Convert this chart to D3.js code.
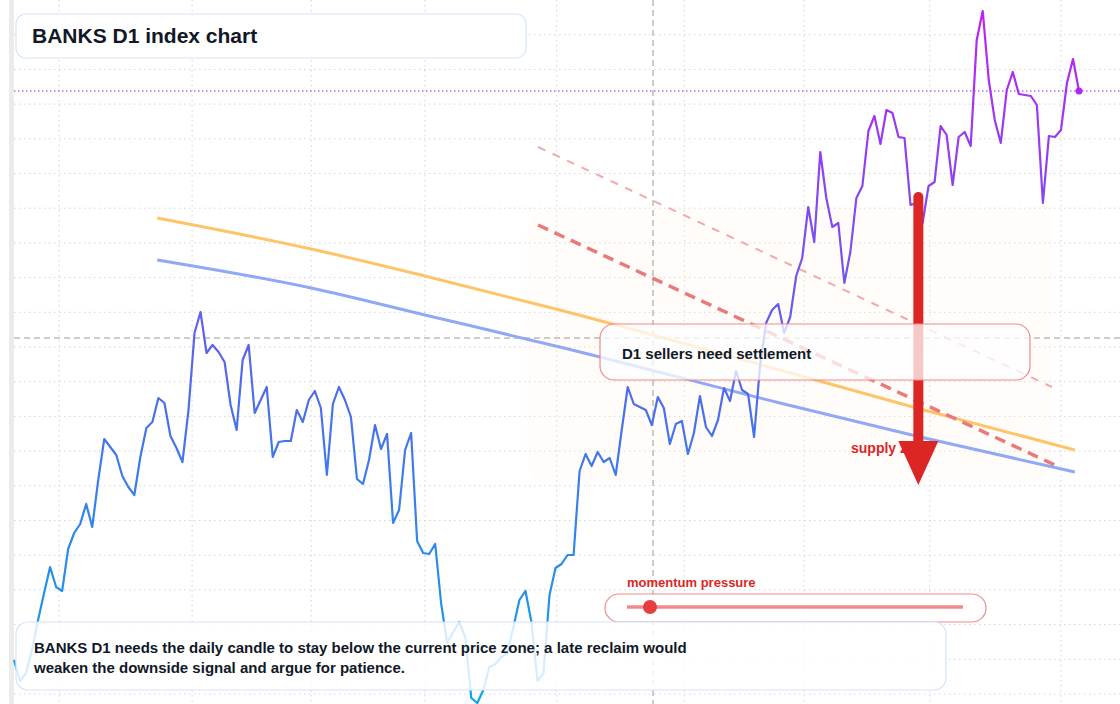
<!DOCTYPE html>
<html>
<head>
<meta charset="utf-8">
<script src="https://cdn.jsdelivr.net/npm/d3@7"></script>
<style>
  body { margin:0; background:#fff; font-family:"Liberation Sans",Arial,sans-serif; }
</style>
</head>
<body>
<script>
var w = 1120, h = 704;

// daily closes
var closes = [54.4,52.3,53.1,55.4,58.4,61.1,63.7,61.7,61.3,65.5,
  67.1,68.0,70.0,67.7,72.4,76.5,75.7,74.9,72.8,71.7,
  70.9,74.7,77.6,78.2,80.6,80.1,76.8,75.6,74.2,79.4,
  87.1,89.2,85.1,85.9,85.2,84.2,79.9,77.4,84.4,85.9,
  79.1,80.4,81.7,74.7,76.2,76.3,76.3,79.4,78.2,80.4,
  81.3,79.6,72.9,80.0,81.7,80.4,78.7,72.5,72.0,74.4,
  77.9,75.5,77.0,68.1,69.4,75.4,77.1,66.3,65.1,65.0,
  66.0,60.0,
  56.1,57.2,58.2,56.7,50.6,50.1,51.4,53.7,54.0,54.7,
  55.1,57.7,60.4,61.3,58.2,52.3,53.1,60.9,63.6,64.0,
  64.9,64.9,73.3,75.0,73.8,75.2,74.2,74.6,72.9,77.4,
  81.7,80.0,79.7,79.4,77.9,80.7,79.6,76.0,78.0,78.3,
  75.0,77.1,80.8,77.7,76.8,78.4,81.6,80.3,83.3,81.4,
  81.0,76.7,83.9,
  88.1,89.4,90.0,87.1,88.7,92.8,94.6,99.7,96.2,105.2,
  100.6,97.7,98.1,92.1,95.2,100.6,101.8,107.3,108.8,106.0,
  109.4,109.1,106.7,106.6,99.9,100.1,98.1,101.8,102.2,107.8,
  106.9,101.9,106.7,107.2,105.8,116.4,119.3,112.4,108.4,106.1,
  111.4,113.2,111.0,110.9,110.8,109.9,100.1,106.8,106.7,107.4,
  112.1,114.5,111.3];

// moving averages [index, value]
var maSlow = [[23.8,98.6],[49.4,95.5],[68.3,92.8],[90.7,89.4],[127.3,83.4],[150.6,79.5],[176.3,75.4]];
var maFast = [[23.8,94.4],[49.4,91.6],[68.3,88.9],[90.7,85.7],[127.3,80.1],[150.6,76.7],[176.3,73.2]];

// trend lines [index, value]
var trendMain = [[87.1,97.9],[173.0,73.9]];
var trendUpper = [[87.1,105.7],[172.5,81.7]];

var xGrid = [7.5,29.6,49.4,68.3,90.2,111.4,131.3,152.2,174.0];
var crossX = 106.2, crossY = 86.6;
var zone = {x0:85.3, x1:172.5, y0:99.6, y1:72.2};
var arrowFrom = 150.3, arrowTop = 100.7, arrowTip = 71.9;

var x = d3.scaleLinear().domain([0, closes.length - 1]).range([14, 1079]);
var y = d3.scaleLinear().domain([50, 120.4]).range([704, 0]);

var svg = d3.select("body").append("svg").attr("width", w).attr("height", h);
var defs = svg.append("defs");
var grad = defs.append("linearGradient").attr("id", "lineGrad")
  .attr("gradientUnits", "userSpaceOnUse").attr("x1", 0).attr("x2", 0).attr("y1", 704).attr("y2", 0);
grad.append("stop").attr("offset", "0%").attr("stop-color", "#0ea5e9");
grad.append("stop").attr("offset", "45%").attr("stop-color", "#4f6bed");
grad.append("stop").attr("offset", "100%").attr("stop-color", "#c21ff5");

// left rail
svg.append("rect").attr("x", 9).attr("y", 0).attr("width", 5).attr("height", h).attr("fill", "#ebebeb");

// grid
var gridVals = d3.range(1, 21).map(function(k){ return 120.4 - 3.47 * k; });
svg.selectAll(".hg").data(gridVals).enter().append("line")
  .attr("x1", 14).attr("x2", w).attr("y1", function(d){ return y(d); }).attr("y2", function(d){ return y(d); })
  .attr("stroke", "#d4d4d4").attr("stroke-dasharray", "1.5,3.5");
svg.selectAll(".vg").data(xGrid).enter().append("line")
  .attr("y1", 0).attr("y2", h).attr("x1", function(d){ return x(d); }).attr("x2", function(d){ return x(d); })
  .attr("stroke", "#d4d4d4").attr("stroke-dasharray", "1.5,3.5");

// supply zone
svg.append("rect").attr("x", x(zone.x0)).attr("y", y(zone.y0))
  .attr("width", x(zone.x1) - x(zone.x0)).attr("height", y(zone.y1) - y(zone.y0))
  .attr("rx", 22).attr("fill", "#fdf2e6").attr("opacity", 0.22);

// crosshair
svg.append("line").attr("x1", x(crossX)).attr("x2", x(crossX)).attr("y1", 0).attr("y2", h)
  .attr("stroke", "#999").attr("stroke-dasharray", "6,4");
svg.append("line").attr("x1", 14).attr("x2", w).attr("y1", y(crossY)).attr("y2", y(crossY))
  .attr("stroke", "#999").attr("stroke-dasharray", "6,4");

// last price line
var last = closes[closes.length - 1];
svg.append("line").attr("x1", 14).attr("x2", w).attr("y1", y(last)).attr("y2", y(last))
  .attr("stroke", "#a21cf0").attr("stroke-dasharray", "1.5,2.5");

var pl = d3.line().x(function(d){ return x(d[0]); }).y(function(d){ return y(d[1]); });
var smooth = d3.line().x(function(d){ return x(d[0]); }).y(function(d){ return y(d[1]); }).curve(d3.curveMonotoneX);

svg.append("path").attr("d", smooth(maSlow)).attr("fill", "none").attr("stroke", "#fdc46a").attr("stroke-width", 3);
svg.append("path").attr("d", smooth(maFast)).attr("fill", "none").attr("stroke", "#91a9f5").attr("stroke-width", 3);

svg.append("path").attr("d", pl(trendUpper)).attr("fill", "none").attr("stroke", "#f4a9a9")
  .attr("stroke-width", 2).attr("stroke-dasharray", "8,8");
svg.append("path").attr("d", pl(trendMain)).attr("fill", "none").attr("stroke", "#ea7a7a")
  .attr("stroke-width", 3.5).attr("stroke-dasharray", "11,7");

// price
svg.append("path").datum(closes)
  .attr("d", d3.line().x(function(d, i){ return x(i); }).y(function(d){ return y(d); }))
  .attr("fill", "none").attr("stroke", "url(#lineGrad)").attr("stroke-width", 2.2).attr("stroke-linejoin", "round");
svg.append("circle").attr("cx", x(closes.length - 1)).attr("cy", y(last)).attr("r", 3.5).attr("fill", "#b026f5");

// supply label + arrow
svg.append("text").attr("x", 851).attr("y", 453).attr("fill", "#dc2626")
  .attr("font-size", 14).attr("font-weight", 700).text("supply zone");
var ax = x(arrowFrom);
svg.append("line").attr("x1", ax).attr("x2", ax).attr("y1", y(arrowTop)).attr("y2", y(arrowTip) - 40)
  .attr("stroke", "#dc2626").attr("stroke-width", 10).attr("stroke-linecap", "round");
svg.append("path").attr("d", "M" + (ax - 20) + "," + (y(arrowTip) - 44) + "L" + (ax + 20) + "," + (y(arrowTip) - 44) + "L" + ax + "," + y(arrowTip) + "Z")
  .attr("fill", "#dc2626");

// callout
svg.append("rect").attr("x", 600).attr("y", 324).attr("width", 430).attr("height", 56).attr("rx", 14)
  .attr("fill", "#fff").attr("fill-opacity", 0.75).attr("stroke", "#f08a8a").attr("stroke-width", 1.2);
svg.append("text").attr("x", 622).attr("y", 359).attr("fill", "#111827")
  .attr("font-size", 15).attr("font-weight", 700).text("D1 sellers need settlement");

// momentum gauge
svg.append("text").attr("x", 627).attr("y", 587).attr("fill", "#dc2626")
  .attr("font-size", 13).attr("font-weight", 700).text("momentum pressure");
svg.append("rect").attr("x", 605).attr("y", 594).attr("width", 381).attr("height", 28).attr("rx", 14)
  .attr("fill", "#fff").attr("fill-opacity", 0.8).attr("stroke", "#f08a8a").attr("stroke-width", 1.2);
svg.append("line").attr("x1", 627).attr("x2", 963).attr("y1", 607).attr("y2", 607)
  .attr("stroke", "#f08a8a").attr("stroke-width", 3.5);
svg.append("circle").attr("cx", 650).attr("cy", 607).attr("r", 7).attr("fill", "#e53e3e");

// title
svg.append("rect").attr("x", 16).attr("y", 14).attr("width", 510).attr("height", 44).attr("rx", 10)
  .attr("fill", "#fff").attr("fill-opacity", 0.9).attr("stroke", "#d6e4fb").attr("stroke-width", 1.2);
svg.append("text").attr("x", 32).attr("y", 43).attr("fill", "#111827")
  .attr("font-size", 21).attr("font-weight", 700).text("BANKS D1 index chart");

// note
svg.append("rect").attr("x", 16).attr("y", 622).attr("width", 930).attr("height", 68).attr("rx", 12)
  .attr("fill", "#fff").attr("fill-opacity", 0.82).attr("stroke", "#d6e4fb").attr("stroke-width", 1.2);
var note = svg.append("text").attr("fill", "#111827").attr("font-size", 15).attr("font-weight", 700);
note.append("tspan").attr("x", 34).attr("y", 653).text("BANKS D1 needs the daily candle to stay below the current price zone; a late reclaim would");
note.append("tspan").attr("x", 34).attr("y", 673).text("weaken the downside signal and argue for patience.");
</script>
</body>
</html>
